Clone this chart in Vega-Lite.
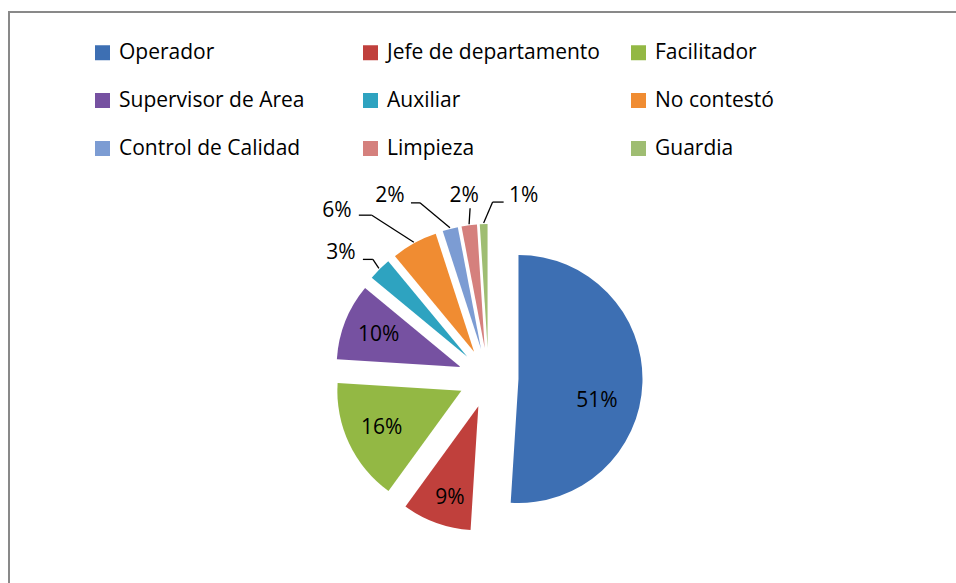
{
  "$schema": "https://vega.github.io/schema/vega-lite/v6.json",
  "width": 949,
  "height": 573,
  "autosize": {"type": "none"},
  "padding": {"left": 9, "top": 12, "right": -2, "bottom": -2},
  "background": "white",
  "config": {
    "view": {"stroke": "#898989", "strokeWidth": 2},
    "font": "Open Sans",
    "text": {"font": "Open Sans", "fontSize": 21, "color": "#000000"}
  },
  "data": {
    "values": [
      {"cat": "Operador", "value": 51},
      {"cat": "Jefe de departamento", "value": 9},
      {"cat": "Facilitador", "value": 16},
      {"cat": "Supervisor de Area", "value": 10},
      {"cat": "Auxiliar", "value": 3},
      {"cat": "No contestó", "value": 6},
      {"cat": "Control de Calidad", "value": 2},
      {"cat": "Limpieza", "value": 2},
      {"cat": "Guardia", "value": 1}
    ]
  },
  "transform": [
    {"window": [{"op": "sum", "field": "value", "as": "cum"}]},
    {"calculate": "datum.cum - datum.value", "as": "start"},
    {"calculate": "datum.cum - datum.value / 2", "as": "mid"},
    {"calculate": "datum.value + '%'", "as": "label"},
    {"calculate": "datum.mid / 100 * 2 * PI", "as": "ang"},
    {"calculate": "30 * sin(datum.ang)", "as": "ox"},
    {"calculate": "30 * cos(datum.ang)", "as": "oy"},
    {"calculate": "datum.ox + 125 * sin(datum.ang)", "as": "sx"},
    {"calculate": "datum.oy + 125 * cos(datum.ang)", "as": "sy"}
  ],
  "layer": [
    {
      "mark": {"type": "arc", "outerRadius": 124},
      "encoding": {
        "theta": {"field": "start", "type": "quantitative", "stack": null, "scale": {"domain": [0, 100], "range": [0, 6.283185307179586]}},
        "theta2": {"field": "cum"},
        "x": {"field": "ox", "type": "quantitative", "axis": null, "scale": {"domain": [-479.5, 469.5], "nice": false, "zero": false}},
        "y": {"field": "oy", "type": "quantitative", "axis": null, "scale": {"domain": [-207, 366], "nice": false, "zero": false}},
        "color": {
          "field": "cat",
          "type": "nominal",
          "scale": {
            "domain": ["Operador", "Jefe de departamento", "Facilitador", "Supervisor de Area", "Auxiliar", "No contestó", "Control de Calidad", "Limpieza", "Guardia"],
            "range": ["#3D6FB3", "#C0403C", "#93B844", "#7651A1", "#2EA3C0", "#F08C32", "#7C9CD3", "#D5807D", "#9FBD72"]
          },
          "legend": {
            "orient": "none",
            "legendX": 83,
            "legendY": 30,
            "direction": "horizontal",
            "columns": 3,
            "title": null,
            "symbolType": "square",
            "symbolSize": 225,
            "symbolStrokeWidth": 0,
            "labelFont": "Open Sans",
            "labelFontSize": 21,
            "labelColor": "#000000",
            "labelLimit": 400,
            "labelOffset": 6,
            "rowPadding": 26,
            "columnPadding": 28,
            "gridAlign": "all",
            "padding": 0
          }
        }
      }
    },
    {
      "transform": [{"filter": {"field": "cat", "oneOf": ["Facilitador", "Supervisor de Area"]}}],
      "mark": {"type": "text", "radius": 88},
      "encoding": {
        "theta": {"field": "mid", "type": "quantitative", "stack": null, "scale": {"domain": [0, 100], "range": [0, 6.283185307179586]}},
        "x": {"field": "ox", "type": "quantitative", "axis": null, "scale": {"domain": [-479.5, 469.5], "nice": false, "zero": false}},
        "y": {"field": "oy", "type": "quantitative", "axis": null, "scale": {"domain": [-207, 366], "nice": false, "zero": false}},
        "text": {"field": "label", "type": "nominal"}
      }
    },
    {
      "transform": [{"filter": {"field": "cat", "equal": "Operador"}}],
      "mark": {"type": "text", "radius": 88, "dx": -9.5, "dy": 19},
      "encoding": {
        "theta": {"field": "mid", "type": "quantitative", "stack": null, "scale": {"domain": [0, 100], "range": [0, 6.283185307179586]}},
        "x": {"field": "ox", "type": "quantitative", "axis": null, "scale": {"domain": [-479.5, 469.5], "nice": false, "zero": false}},
        "y": {"field": "oy", "type": "quantitative", "axis": null, "scale": {"domain": [-207, 366], "nice": false, "zero": false}},
        "text": {"field": "label", "type": "nominal"}
      }
    },
    {
      "transform": [{"filter": {"field": "cat", "equal": "Jefe de departamento"}}],
      "mark": {"type": "text", "radius": 88, "dx": 1.5, "dy": 9},
      "encoding": {
        "theta": {"field": "mid", "type": "quantitative", "stack": null, "scale": {"domain": [0, 100], "range": [0, 6.283185307179586]}},
        "x": {"field": "ox", "type": "quantitative", "axis": null, "scale": {"domain": [-479.5, 469.5], "nice": false, "zero": false}},
        "y": {"field": "oy", "type": "quantitative", "axis": null, "scale": {"domain": [-207, 366], "nice": false, "zero": false}},
        "text": {"field": "label", "type": "nominal"}
      }
    },
    {
      "transform": [{"filter": {"field": "cat", "equal": "Auxiliar"}}],
      "encoding": {
        "x": {"field": "sx", "type": "quantitative", "axis": null, "scale": {"domain": [-479.5, 469.5], "nice": false, "zero": false}},
        "y": {"field": "sy", "type": "quantitative", "axis": null, "scale": {"domain": [-207, 366], "nice": false, "zero": false}}
      },
      "layer": [
        {"mark": {"type": "rule", "color": "#000000", "strokeWidth": 1.3, "x2Offset": -6, "y2Offset": -9}, "encoding": {"x2": {"field": "sx"}, "y2": {"field": "sy"}}},
        {"mark": {"type": "rule", "color": "#000000", "strokeWidth": 1.3, "xOffset": -6, "yOffset": -9, "x2Offset": -16, "y2Offset": -9}, "encoding": {"x2": {"field": "sx"}, "y2": {"field": "sy"}}},
        {"mark": {"type": "text", "dx": -38, "dy": -15}, "encoding": {"text": {"field": "label", "type": "nominal"}}}
      ]
    },
    {
      "transform": [{"filter": {"field": "cat", "equal": "No contestó"}}],
      "encoding": {
        "x": {"field": "sx", "type": "quantitative", "axis": null, "scale": {"domain": [-479.5, 469.5], "nice": false, "zero": false}},
        "y": {"field": "sy", "type": "quantitative", "axis": null, "scale": {"domain": [-207, 366], "nice": false, "zero": false}}
      },
      "layer": [
        {"mark": {"type": "rule", "color": "#000000", "strokeWidth": 1.3, "x2Offset": -42, "y2Offset": -27}, "encoding": {"x2": {"field": "sx"}, "y2": {"field": "sy"}}},
        {"mark": {"type": "rule", "color": "#000000", "strokeWidth": 1.3, "xOffset": -42, "yOffset": -27, "x2Offset": -55, "y2Offset": -27}, "encoding": {"x2": {"field": "sx"}, "y2": {"field": "sy"}}},
        {"mark": {"type": "text", "dx": -77, "dy": -31}, "encoding": {"text": {"field": "label", "type": "nominal"}}}
      ]
    },
    {
      "transform": [{"filter": {"field": "cat", "equal": "Control de Calidad"}}],
      "encoding": {
        "x": {"field": "sx", "type": "quantitative", "axis": null, "scale": {"domain": [-479.5, 469.5], "nice": false, "zero": false}},
        "y": {"field": "sy", "type": "quantitative", "axis": null, "scale": {"domain": [-207, 366], "nice": false, "zero": false}}
      },
      "layer": [
        {"mark": {"type": "rule", "color": "#000000", "strokeWidth": 1.3, "x2Offset": -30, "y2Offset": -25}, "encoding": {"x2": {"field": "sx"}, "y2": {"field": "sy"}}},
        {"mark": {"type": "rule", "color": "#000000", "strokeWidth": 1.3, "xOffset": -30, "yOffset": -25, "x2Offset": -39, "y2Offset": -25}, "encoding": {"x2": {"field": "sx"}, "y2": {"field": "sy"}}},
        {"mark": {"type": "text", "dx": -60, "dy": -32}, "encoding": {"text": {"field": "label", "type": "nominal"}}}
      ]
    },
    {
      "transform": [{"filter": {"field": "cat", "equal": "Limpieza"}}],
      "encoding": {
        "x": {"field": "sx", "type": "quantitative", "axis": null, "scale": {"domain": [-479.5, 469.5], "nice": false, "zero": false}},
        "y": {"field": "sy", "type": "quantitative", "axis": null, "scale": {"domain": [-207, 366], "nice": false, "zero": false}}
      },
      "layer": [
        {"mark": {"type": "rule", "color": "#000000", "strokeWidth": 1.3, "x2Offset": 1, "y2Offset": -16}, "encoding": {"x2": {"field": "sx"}, "y2": {"field": "sy"}}},
        {"mark": {"type": "text", "dx": -5, "dy": -28}, "encoding": {"text": {"field": "label", "type": "nominal"}}}
      ]
    },
    {
      "transform": [{"filter": {"field": "cat", "equal": "Guardia"}}],
      "encoding": {
        "x": {"field": "sx", "type": "quantitative", "axis": null, "scale": {"domain": [-479.5, 469.5], "nice": false, "zero": false}},
        "y": {"field": "sy", "type": "quantitative", "axis": null, "scale": {"domain": [-207, 366], "nice": false, "zero": false}}
      },
      "layer": [
        {"mark": {"type": "rule", "color": "#000000", "strokeWidth": 1.3, "x2Offset": 9, "y2Offset": -21}, "encoding": {"x2": {"field": "sx"}, "y2": {"field": "sy"}}},
        {"mark": {"type": "rule", "color": "#000000", "strokeWidth": 1.3, "xOffset": 9, "yOffset": -21, "x2Offset": 20, "y2Offset": -21}, "encoding": {"x2": {"field": "sx"}, "y2": {"field": "sy"}}},
        {"mark": {"type": "text", "dx": 40, "dy": -27}, "encoding": {"text": {"field": "label", "type": "nominal"}}}
      ]
    }
  ]
}
